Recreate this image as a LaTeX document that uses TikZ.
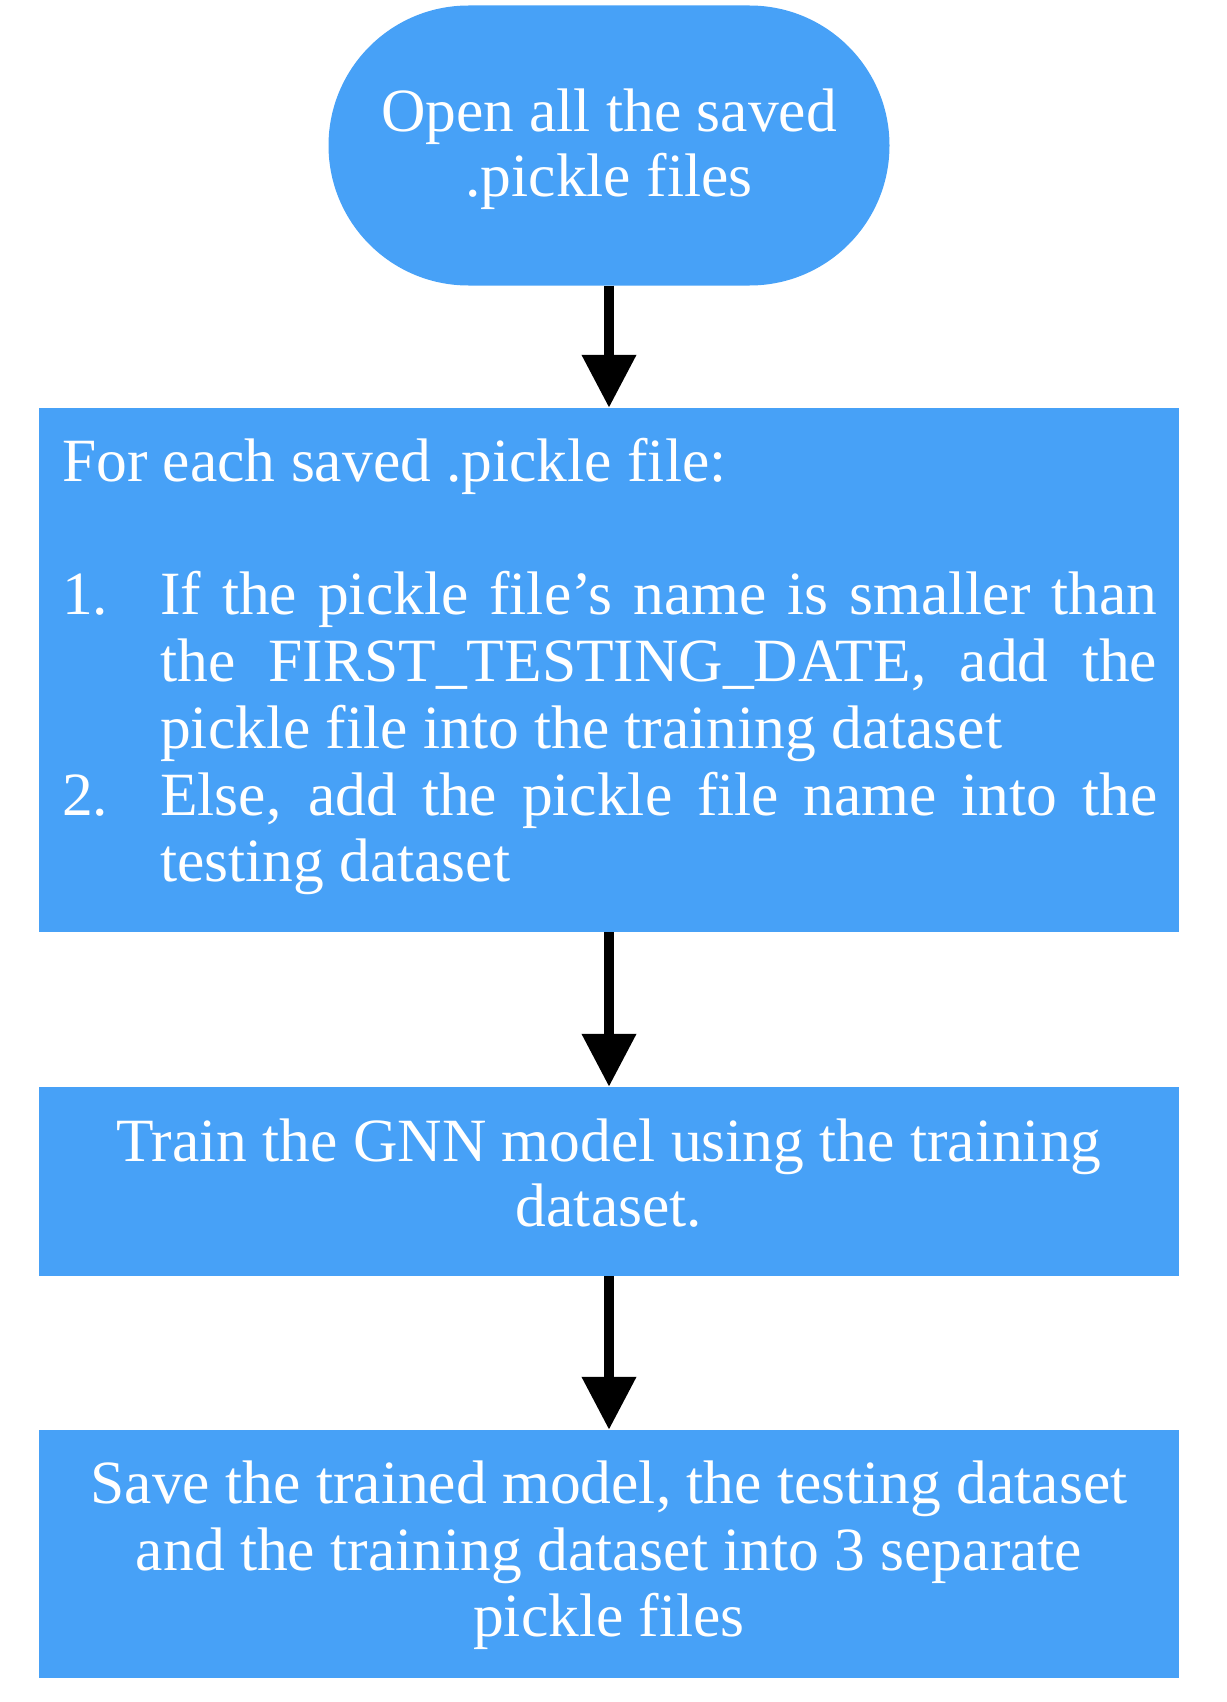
\documentclass[tikz,border=0pt]{standalone}
\usepackage{fontspec}
\setmainfont{Liberation Serif}
\usetikzlibrary{arrows.meta}
\definecolor{boxblue}{RGB}{71,161,247}
\begin{document}
\begin{tikzpicture}[x=1pt,y=-1pt,
  bluebox/.style={fill=boxblue, draw=none, inner sep=0pt},
  txt/.style={inner sep=0pt, text=white, anchor=base, font=\fontsize{61.5}{66}\selectfont},
  flow/.style={line width=10.5pt, -{Triangle[width=52pt,length=53pt]}}]
\useasboundingbox (0,0) rectangle (1226,1702);
% shapes
\node[bluebox, rounded corners=140pt, minimum width=561pt, minimum height=280pt] (start) at (609,145.5) {};
\node[bluebox, minimum width=1140pt, minimum height=524pt] (each) at (609,670) {};
\node[bluebox, minimum width=1140pt, minimum height=189pt] (train) at (609,1181.5) {};
\node[bluebox, minimum width=1140pt, minimum height=248pt] (save) at (609,1554) {};
% texts
\node[txt] (tstart) at (609,131.7) {\vtop{\hsize=600pt\parindent=0pt\centering\baselineskip=65pt
  Open all the saved\\ .pickle files\par}};
\node[txt, anchor=base west] (teach) at (62,481) {\vtop{\hsize=1095pt\parindent=0pt\baselineskip=66.8pt
  \tolerance=9999\hyphenpenalty=10000
  For each saved .pickle file:\par
  \vskip 66.8pt
  \hangindent=98pt\hangafter=1 \makebox[98pt][l]{1.}If the pickle file’s name is smaller than\linebreak the FIRST\_TESTING\_DATE, add the\linebreak pickle file into the training dataset\par
  \hangindent=98pt\hangafter=1 \makebox[98pt][l]{2.}Else, add the pickle file name into the\linebreak testing dataset\par}};
\node[txt] (ttrain) at (609,1161) {\vtop{\hsize=1095pt\parindent=0pt\centering\baselineskip=65pt
  Train the GNN model using the training\\ dataset.\par}};
\node[txt] (tsave) at (609,1503.6) {\vtop{\hsize=1095pt\parindent=0pt\centering\baselineskip=66.5pt
  Save the trained model, the testing dataset\\ and the training dataset into 3 separate\\ pickle files\par}};
% connectors
\draw[flow] (start) -- (each);
\draw[flow] (each) -- (train);
\draw[flow] (train) -- (save);
\end{tikzpicture}
\end{document}
